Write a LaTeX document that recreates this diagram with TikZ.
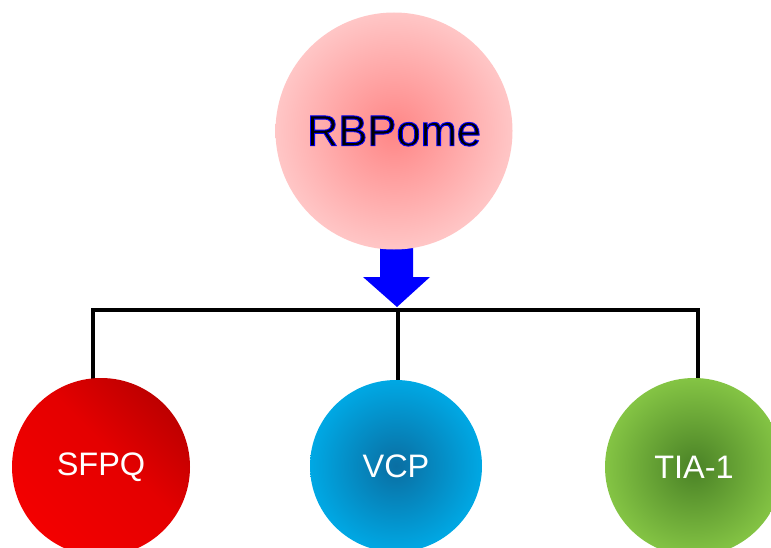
\documentclass[tikz,border=0pt]{standalone}
\usepackage{fontspec}
\setmainfont{Liberation Sans}
\definecolor{rbin}{HTML}{FF8686}
\definecolor{rbout}{HTML}{FFC6C6}
\definecolor{sfdark}{HTML}{B40000}
\definecolor{sfmid}{HTML}{E40000}
\definecolor{sflight}{HTML}{F60000}
\definecolor{vcpin}{HTML}{0A6EA2}
\definecolor{vcpout}{HTML}{00A8E4}
\definecolor{tiain}{HTML}{4A8226}
\definecolor{tiaout}{HTML}{84C444}
\pgfdeclareradialshading{rbshade}{\pgfpoint{0bp}{0bp}}{color(0bp)=(rbin); color(25bp)=(rbout); color(50bp)=(rbout)}
\pgfdeclareradialshading{vcpshade}{\pgfpoint{0bp}{0bp}}{color(0bp)=(vcpin); color(25bp)=(vcpout); color(50bp)=(vcpout)}
\pgfdeclareradialshading{tiashade}{\pgfpoint{0bp}{0bp}}{color(0bp)=(tiain); color(25bp)=(tiaout); color(50bp)=(tiaout)}
\pgfdeclarehorizontalshading{sfshade}{100bp}{color(0bp)=(sflight); color(20bp)=(sflight); color(55bp)=(sfmid); color(80bp)=(sfdark); color(100bp)=(sfdark)}
\tikzset{
  ball/.style={circle, inner sep=0pt, draw=none},
  lab/.style={text=white, font=\fontsize{32.5}{32.5}\selectfont},
  bracket/.style={line width=3.5pt, black},
}
\begin{document}
\begin{tikzpicture}[x=1pt,y=-1pt]
\useasboundingbox (0,0) rectangle (771,548);
% arrow
\fill[blue] (380,244) -- (413,244) -- (413,277) -- (430,277) -- (397,307) -- (363,277) -- (380,277) -- cycle;
\node[ball, minimum size=237pt, shading=rbshade,
      font=\fontsize{43.5}{43.5}\selectfont] (rb) at (394,131)
      {\special{pdf:literal direct 2 Tr 0 0 1 RG 0.9 w}RBPome\special{pdf:literal direct 0 Tr 0 G}};
% bracket
\coordinate (b1) at (93,310);
\coordinate (b2) at (398,310);
\coordinate (b3) at (698,310);
\draw[bracket] ([xshift=-1.75pt]b1) -- ([xshift=1.75pt]b3);
\draw[bracket] (b1) -- (93,385);
\draw[bracket] (b2) -- (398,385);
\draw[bracket] (b3) -- (698,385);
% bottom circles
\node[ball, minimum size=178pt, shading=sfshade, shading angle=45, lab] (sfpq) at (101,467) {SFPQ};
\node[ball, minimum size=172pt, shading=vcpshade, lab] (vcp) at (396,466) {VCP};
\node[ball, minimum size=178pt, shading=tiashade, lab] (tia) at (694,467) {TIA-1};
\end{tikzpicture}
\end{document}
